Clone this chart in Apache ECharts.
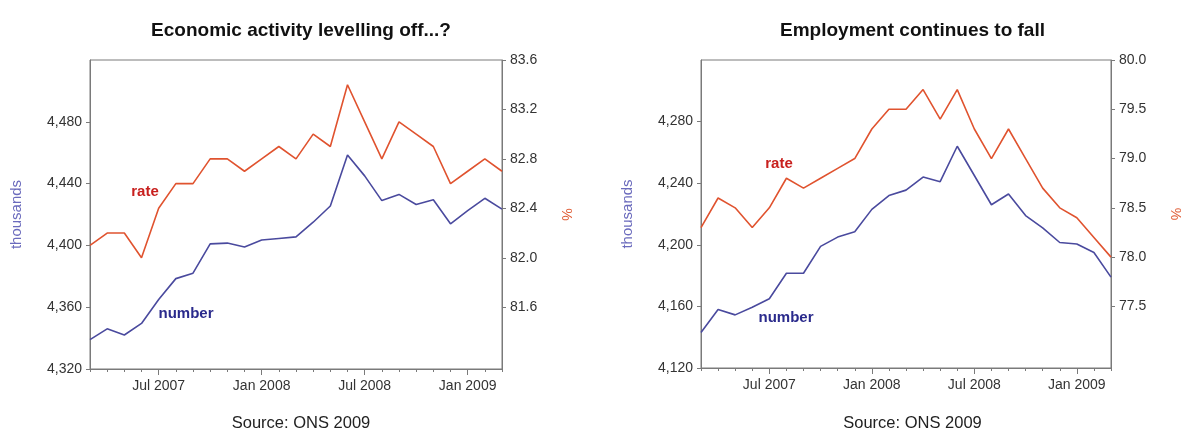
<!DOCTYPE html>
<html>
<head>
<meta charset="utf-8">
<script src="https://cdn.jsdelivr.net/npm/echarts@6/dist/echarts.min.js"></script>
<style>
html,body{margin:0;padding:0;background:#fff;}
#chart{width:1183px;height:431px;}
</style>
</head>
<body>
<div id="chart"></div>
<script>
// ---- data ----
const categories = ['Mar 2007','Apr 2007','May 2007','Jun 2007','Jul 2007','Aug 2007','Sep 2007','Oct 2007','Nov 2007','Dec 2007',
  'Jan 2008','Feb 2008','Mar 2008','Apr 2008','May 2008','Jun 2008','Jul 2008','Aug 2008','Sep 2008','Oct 2008','Nov 2008','Dec 2008',
  'Jan 2009','Feb 2009','Mar 2009'];
const activityNumber = [4339, 4346, 4342, 4349.5, 4365, 4378.5, 4382, 4401, 4401.5, 4399, 4403.5, 4404.5, 4405.5, 4415, 4425.5, 4458.5, 4445, 4429, 4433, 4426.5, 4429.5, 4414, 4422.5, 4430.5, 4423.5];
const activityRate = [82.1, 82.2, 82.2, 82.0, 82.4, 82.6, 82.6, 82.8, 82.8, 82.7, 82.8, 82.9, 82.8, 83.0, 82.9, 83.4, 83.1, 82.8, 83.1, 83.0, 82.9, 82.6, 82.7, 82.8, 82.7];
const employmentNumber = [4143, 4158, 4154.5, 4159.5, 4165, 4181.5, 4181.5, 4199, 4205, 4208.5, 4223, 4232, 4235.5, 4244, 4241, 4264, 4245, 4226, 4233, 4219, 4211, 4201.5, 4200.5, 4195, 4179];
const employmentRate = [78.3, 78.6, 78.5, 78.3, 78.5, 78.8, 78.7, 78.8, 78.9, 79.0, 79.3, 79.5, 79.5, 79.7, 79.4, 79.7, 79.3, 79.0, 79.3, 79.0, 78.7, 78.5, 78.4, 78.2, 78.0];
const activityLeftTicks = [4320, 4360, 4400, 4440, 4480];
const activityRightTicks = [81.6, 82.0, 82.4, 82.8, 83.2, 83.6];
const employmentLeftTicks = [4120, 4160, 4200, 4240, 4280];
const employmentRightTicks = [77.5, 78.0, 78.5, 79.0, 79.5, 80.0];
const titles = ['Economic activity levelling off...?', 'Employment continues to fall'];
const sourceText = 'Source: ONS 2009';

// ---- styling ----
const FONT = 'Liberation Sans, Arial, sans-serif';
const RATE_COLOR = '#e0532f';
const NUM_COLOR = '#4a4a9e';
const FRAME = '#7a7a7a';
const LABEL = '#333';

const grids = [
  {left: 90, top: 60, width: 412, height: 309},
  {left: 701, top: 60, width: 413, height: 308}
];

function isMajor(idx, val){ return /^(Jan|Jul)/.test(val); }
const fmtThousands = v => Math.round(v).toLocaleString('en-US');
const fmtPct = v => v.toFixed(1);

const xAxis = [];
const yAxis = [];
const series = [];
const axisCfg = [
  {ranges: [[4320, 4520],[81.1, 83.6]], ticks: [activityLeftTicks, activityRightTicks], num: activityNumber, rate: activityRate},
  {ranges: [[4120, 4320],[76.875, 80]], ticks: [employmentLeftTicks, employmentRightTicks], num: employmentNumber, rate: employmentRate}
];
axisCfg.forEach((c, g) => {
  // minor ticks axis
  xAxis.push({type:'category', gridIndex:g, position:'bottom', data:categories, boundaryGap:false,
    axisLine:{show:true, lineStyle:{color:FRAME}},
    axisTick:{show:true, interval:0, length:3, lineStyle:{color:FRAME}},
    axisLabel:{show:false}, splitLine:{show:false}});
  // major ticks + labels axis
  xAxis.push({type:'category', gridIndex:g, position:'bottom', offset:0, data:categories, boundaryGap:false,
    axisLine:{show:false},
    axisTick:{show:true, interval:isMajor, length:6, lineStyle:{color:FRAME}},
    axisLabel:{show:true, interval:isMajor, color:LABEL, fontSize:14, fontFamily:FONT, margin:10},
    splitLine:{show:false}});
  yAxis.push({type:'value', gridIndex:g, position:'left', min:c.ranges[0][0], max:c.ranges[0][1],
    name:'thousands', nameLocation:'middle', nameGap:66, nameRotate:90,
    nameTextStyle:{color:'#6b6bbd', fontSize:15, fontFamily:FONT},
    axisLine:{show:true, lineStyle:{color:FRAME}},
    axisTick:{show:true, length:4, customValues:c.ticks[0], lineStyle:{color:FRAME}},
    axisLabel:{color:LABEL, fontSize:14, fontFamily:FONT, margin:8, customValues:c.ticks[0], formatter:fmtThousands},
    splitLine:{show:false}});
  yAxis.push({type:'value', gridIndex:g, position:'right', min:c.ranges[1][0], max:c.ranges[1][1],
    name:'%', nameLocation:'middle', nameGap:57, nameRotate:-90,
    nameTextStyle:{color:'#e0603a', fontSize:14, fontFamily:FONT},
    axisLine:{show:true, lineStyle:{color:FRAME}},
    axisTick:{show:true, length:4, customValues:c.ticks[1], lineStyle:{color:FRAME}},
    axisLabel:{color:LABEL, fontSize:14, fontFamily:FONT, margin:8, customValues:c.ticks[1], formatter:fmtPct},
    splitLine:{show:false}});
  series.push({type:'line', name:'number', xAxisIndex:g*2, yAxisIndex:g*2, data:c.num,
    symbol:'none', lineStyle:{color:NUM_COLOR, width:1.6}, itemStyle:{color:NUM_COLOR}, silent:true, z:3});
  series.push({type:'line', name:'rate', xAxisIndex:g*2, yAxisIndex:g*2+1, data:c.rate,
    symbol:'none', lineStyle:{color:RATE_COLOR, width:1.6}, itemStyle:{color:RATE_COLOR}, silent:true, z:3});
});

const title = [];
grids.forEach((gr, g) => {
  const cx = gr.left + gr.width/2;
  title.push({text: titles[g], left: cx, top: 16, textAlign:'center',
    textStyle:{fontSize:19, fontWeight:'bold', color:'#111', fontFamily:FONT}});
  title.push({text: sourceText, left: cx, top: 410, textAlign:'center',
    textStyle:{fontSize:16.5, fontWeight:'normal', color:'#222', fontFamily:FONT}});
});

const seriesLabels = [
  {text:'rate', x:145, y:192, color:'#c8201e'},
  {text:'number', x:186, y:314, color:'#2a2a8c'},
  {text:'rate', x:779, y:164, color:'#c8201e'},
  {text:'number', x:786, y:318, color:'#2a2a8c'}
];

const chart = echarts.init(document.getElementById('chart'), null, {renderer:'canvas'});
chart.setOption({
  animation:false,
  backgroundColor:'#fff',
  title,
  grid: grids.map(g => Object.assign({show:true, borderColor:FRAME, borderWidth:1, backgroundColor:'transparent'}, g)),
  xAxis, yAxis, series,
  graphic: seriesLabels.map(l => ({type:'text', x:l.x, y:l.y, z:10,
    style:{text:l.text, fill:l.color, font:'bold 15px ' + FONT, textAlign:'center', textVerticalAlign:'middle'}}))
});
</script>
</body>
</html>
